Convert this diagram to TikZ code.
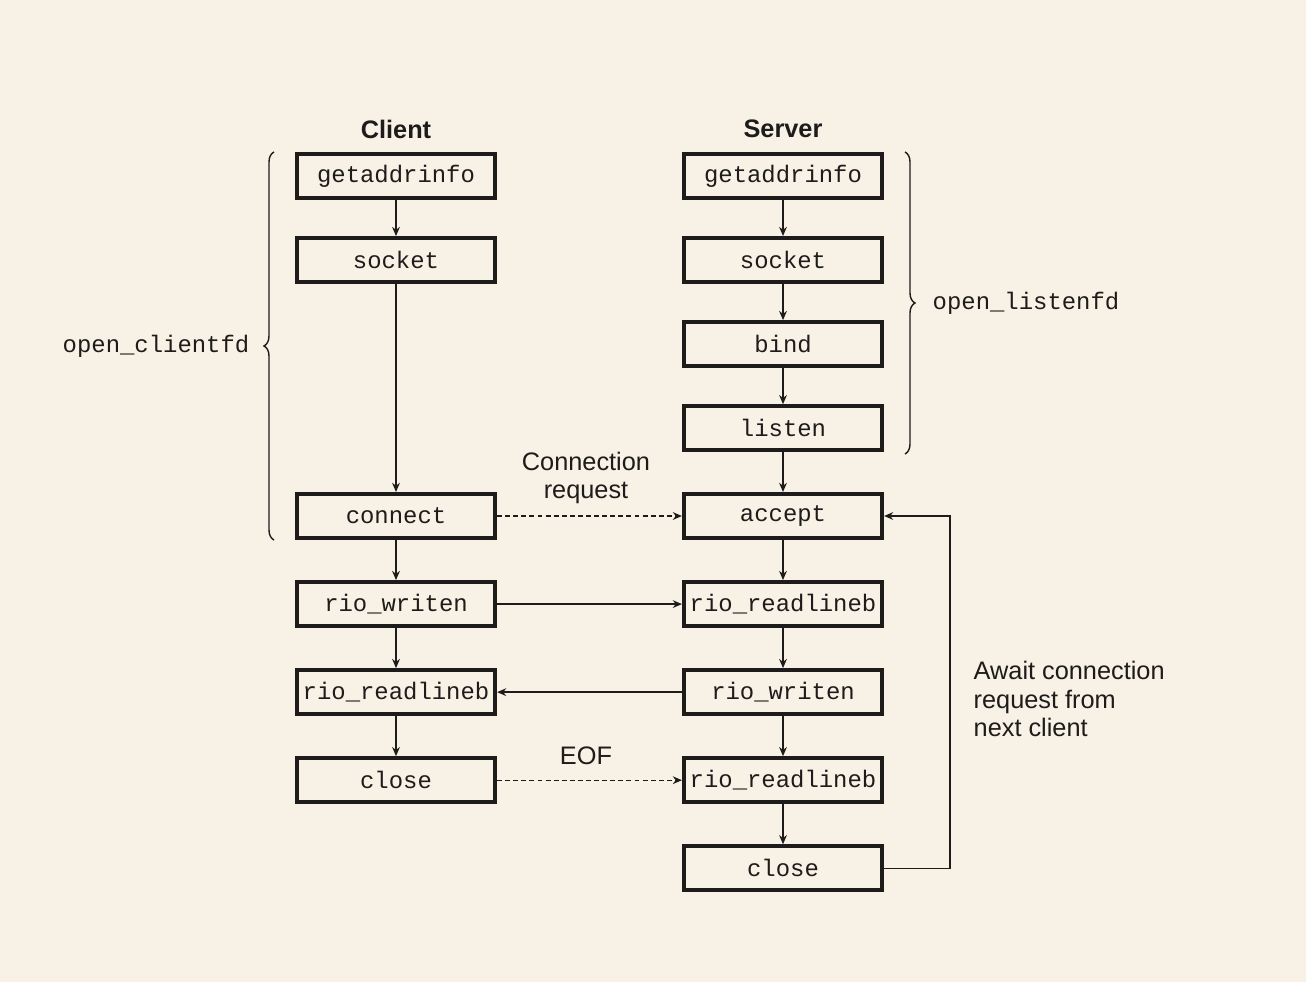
\documentclass[tikz,border=0pt]{standalone}
\usepackage{fontspec}
\setmainfont{Liberation Sans}
\setmonofont{Liberation Mono}
\usetikzlibrary{arrows.meta,positioning,decorations.pathreplacing}
\definecolor{papier}{RGB}{247,241,230}
\definecolor{tinta}{RGB}{30,28,26}

\begin{document}
\begin{tikzpicture}[x=0.01cm, y=-0.01cm, >={Stealth[length=2.6pt,width=2.2pt]}]

% Background and size of the page
\fill[papier] (0,0) rectangle (1306,982);
\useasboundingbox (0,0) rectangle (1306,982);

% Define styles for calls, arrows and labels
\tikzstyle{llamada} = [rectangle, draw=tinta, line width=1.2pt, minimum width=1.978cm, minimum height=0.438cm, inner sep=0pt, font=\ttfamily\fontsize{6.8}{8}\selectfont, text=tinta]
\tikzstyle{flecha} = [->, draw=tinta, line width=0.4pt]
\tikzstyle{punteada} = [flecha, dash pattern=on 1.4pt off 0.9pt]
\tikzstyle{rotulo} = [font=\fontsize{7.2}{8}\selectfont, text=tinta, align=center, inner sep=0pt]
\tikzstyle{titulo} = [font=\bfseries\fontsize{7.2}{8}\selectfont, text=tinta, inner sep=0pt]
\tikzstyle{llave} = [draw=tinta, line width=0.4pt, decorate, decoration={brace, amplitude=0.1cm}]

% Client column
\node[titulo] (client) at (396,129) {Client};
\node[llamada] (cgetaddr) at (396,176) {getaddrinfo};
\node[llamada, below=0.36cm of cgetaddr] (csocket) {socket};
\node[llamada] (cconnect) at (396,516) {connect};
\node[llamada, below=0.4cm of cconnect] (cwrite) {rio\_writen};
\node[llamada, below=0.4cm of cwrite] (cread) {rio\_readlineb};
\node[llamada, below=0.4cm of cread] (cclose) {close};

% Server column
\node[titulo] (server) at (783,129) {Server};
\node[llamada] (sgetaddr) at (783,176) {getaddrinfo};
\node[llamada, below=0.36cm of sgetaddr] (ssocket) {socket};
\node[llamada, below=0.36cm of ssocket] (sbind) {bind};
\node[llamada, below=0.36cm of sbind] (slisten) {listen};
\node[llamada] (saccept) at (783,516) {accept};
\node[llamada, below=0.4cm of saccept] (sread) {rio\_readlineb};
\node[llamada, below=0.4cm of sread] (swrite) {rio\_writen};
\node[llamada, below=0.4cm of swrite] (sreadeof) {rio\_readlineb};
\node[llamada, below=0.4cm of sreadeof] (sclose) {close};

% Braces for the helper functions
\coordinate (cbtop) at (274,152);
\coordinate (cbbot) at (274,540);
\draw[llave] (cbbot) -- (cbtop) node[midway, left=0.24cm, font=\ttfamily\fontsize{6.8}{8}\selectfont, text=tinta, inner sep=0pt] (openc) {open\_clientfd};
\coordinate (sbtop) at (905,152);
\coordinate (sbbot) at (905,454);
\draw[llave] (sbtop) -- (sbbot) node[midway, right=0.27cm, font=\ttfamily\fontsize{6.8}{8}\selectfont, text=tinta, inner sep=0pt] (opens) {open\_listenfd};

% Calls down each column
\draw[flecha] (cgetaddr) -- (csocket);
\draw[flecha] (csocket) -- (cconnect);
\draw[flecha] (cconnect) -- (cwrite);
\draw[flecha] (cwrite) -- (cread);
\draw[flecha] (cread) -- (cclose);

\draw[flecha] (sgetaddr) -- (ssocket);
\draw[flecha] (ssocket) -- (sbind);
\draw[flecha] (sbind) -- (slisten);
\draw[flecha] (slisten) -- (saccept);
\draw[flecha] (saccept) -- (sread);
\draw[flecha] (sread) -- (swrite);
\draw[flecha] (swrite) -- (sreadeof);
\draw[flecha] (sreadeof) -- (sclose);

% Messages between client and server
\draw[punteada] (cconnect) -- (saccept);
\node[rotulo] (req) at (586,478) {Connection\\request};
\draw[flecha] (cwrite) -- (sread);
\draw[flecha] (swrite) -- (cread);
\draw[punteada] (cclose) -- (sreadeof);
\node[rotulo] (eof) at (586,756) {EOF};

% Back to accept for the next client
\draw[flecha] (sclose.east) -- ++(66,0) |- (saccept.east);
\node[rotulo, anchor=west, align=left] (await) at (973,699) {Await connection\\request from\\next client};

\end{tikzpicture}
\end{document}
